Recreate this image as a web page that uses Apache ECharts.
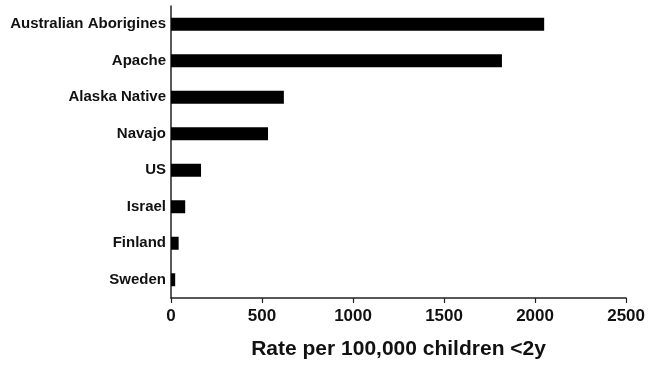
<!DOCTYPE html>
<html><head><meta charset="utf-8">
<script src="https://cdn.jsdelivr.net/npm/echarts@6/dist/echarts.min.js"></script>
<style>html,body{margin:0;padding:0;background:#fff}#c{width:648px;height:368px}</style>
</head><body><div id="c"></div>
<script>
const categories = ["Australian Aborigines","Apache","Alaska Native","Navajo","US","Israel","Finland","Sweden"];
const rates = [2050, 1818, 620, 533, 165, 78, 42, 23];
const xTicks = [0, 500, 1000, 1500, 2000, 2500];
const axisTitle = "Rate per 100,000 children <2y";

const chart = echarts.init(document.getElementById('c'));
const font = '"Liberation Sans", Arial, sans-serif';
chart.setOption({
  animation: false,
  backgroundColor: '#fff',
  grid: {left: 171, right: 20, top: 6, bottom: 70, containLabel: false},
  xAxis: {
    type: 'value', min: xTicks[0], max: xTicks[xTicks.length-1], interval: 500,
    name: axisTitle, nameLocation: 'middle', nameGap: 41,
    nameTextStyle: {fontFamily: font, fontWeight: 'bold', fontSize: 21, color: '#111'},
    axisLine: {show: true, lineStyle: {color: '#222', width: 1.5}},
    axisTick: {show: true, length: 5, lineStyle: {color: '#222', width: 1.2}},
    axisLabel: {fontFamily: font, fontWeight: 'bold', fontSize: 17, color: '#111', margin: 10,
      formatter: v => String(v)},
    splitLine: {show: false}
  },
  yAxis: {
    type: 'category', data: categories, inverse: true,
    axisLine: {show: true, lineStyle: {color: '#222', width: 1.5}},
    axisTick: {show: false},
    axisLabel: {fontFamily: font, fontWeight: 'bold', fontSize: 15, color: '#111', margin: 5}
  },
  series: [{
    type: 'bar', data: rates, barWidth: 13,
    itemStyle: {color: '#000'}
  }]
});
</script></body></html>
